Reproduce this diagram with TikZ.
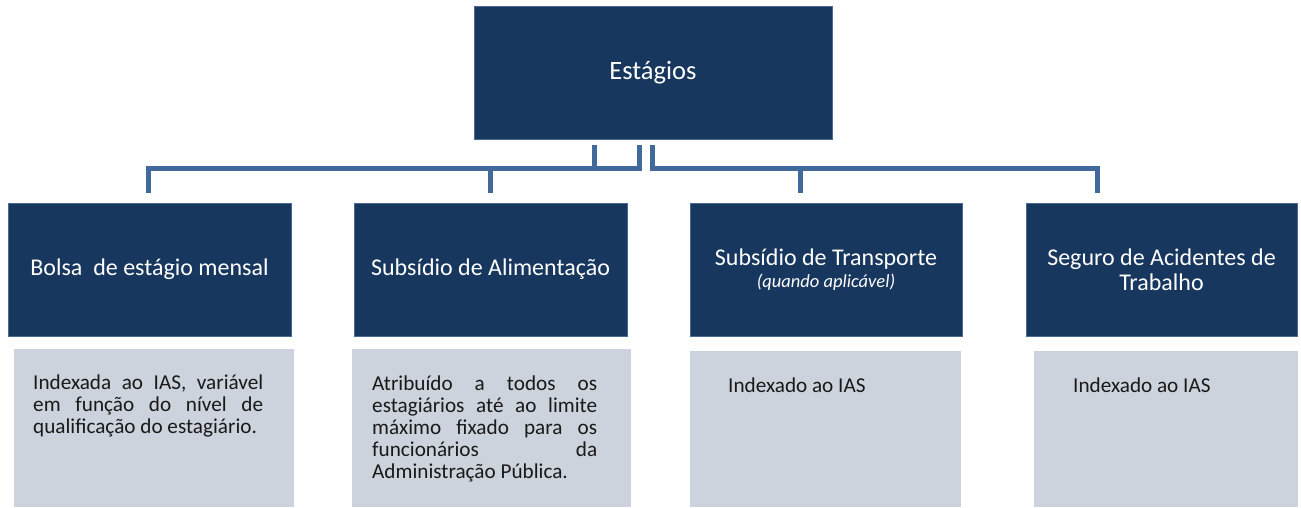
\documentclass[tikz,border=0pt]{standalone}
\usepackage{fontspec}
\setmainfont{Carlito}
\definecolor{navy}{HTML}{17375E}
\definecolor{navyedge}{HTML}{4A6A95}
\definecolor{notegrey}{HTML}{CDD3DC}
\definecolor{linkblue}{HTML}{41699B}
\tikzset{
  headbox/.style={fill=navy, draw=navyedge, line width=0.8pt, text=white, inner sep=0pt,
    minimum width=358pt, minimum height=133pt, font=\fontsize{26.5}{30}\selectfont},
  itembox/.style={fill=navy, draw=navyedge, line width=0.8pt, text=white, inner sep=0pt,
    minimum height=133pt, align=center, font=\fontsize{24}{24.5}\selectfont},
  notebox/.style={fill=notegrey, inner sep=0pt},
  notetext/.style={anchor=base west, inner sep=0pt, text=black!90, font=\fontsize{21.2}{22.2}\selectfont},
  link/.style={draw=linkblue, line width=5pt}
}
\begin{document}
\begin{tikzpicture}[x=1pt,y=-1pt]
    \useasboundingbox (0,0) rectangle (1301,507);
    % top
    \node[headbox] (top) at (653,72.5) {Estágios};
    % items
    \node[itembox, minimum width=283pt] (bolsa) at (149.5,269.5) {Bolsa\ \ de estágio mensal};
    \node[itembox, minimum width=273pt] (alim) at (490.5,269.5) {Subsídio de Alimentação};
    \node[itembox, minimum width=272pt] (transp) at (826,269.5)
        {Subsídio de Transporte\\[-2pt]{\fontsize{18.5}{20}\selectfont\itshape (quando aplicável)}};
    \node[itembox, minimum width=271pt] (seguro) at (1161.5,269.5) {Seguro de Acidentes de\\Trabalho};
    % notes
    \node[notebox, minimum width=280pt, minimum height=158pt] (nbolsa) at (154,428) {};
    \node[notebox, minimum width=279pt, minimum height=158pt] (nalim) at (491.5,428) {};
    \node[notebox, minimum width=271pt, minimum height=156pt] (ntransp) at (825.5,429) {};
    \node[notebox, minimum width=264pt, minimum height=156pt] (nseguro) at (1166,429) {};
    \node[notetext, text width=230pt, align=justify] (tbolsa) at (33,389)
        {Indexada ao IAS, variável\linebreak em função do nível de\linebreak qualificação do estagiário.};
    \node[notetext, text width=225pt, align=justify] (talim) at (372,390)
        {Atribuído a todos os\linebreak estagiários até ao limite\linebreak máximo fixado para os\linebreak funcionários da\linebreak Administração Pública.};
    \node[notetext] (ttransp) at (728,392) {Indexado ao IAS};
    \node[notetext] (tseguro) at (1073,392) {Indexado ao IAS};
    % connectors
    \coordinate (sa) at (594,145);
    \coordinate (sb) at (639,145);
    \coordinate (sc) at (652.5,145);
    \coordinate (ea) at (148,193);
    \coordinate (eb) at (490,193);
    \coordinate (ec) at (800,193);
    \coordinate (ed) at (1097,193);
    \draw[link] (sa) -- ++(0,23) -| (ea);
    \draw[link] (sb) -- ++(0,23) -| (eb);
    \draw[link] (sc) -- ++(0,23) -| (ed);
    \draw[link] (ec) -- ++(0,-25);
\end{tikzpicture}
\end{document}
